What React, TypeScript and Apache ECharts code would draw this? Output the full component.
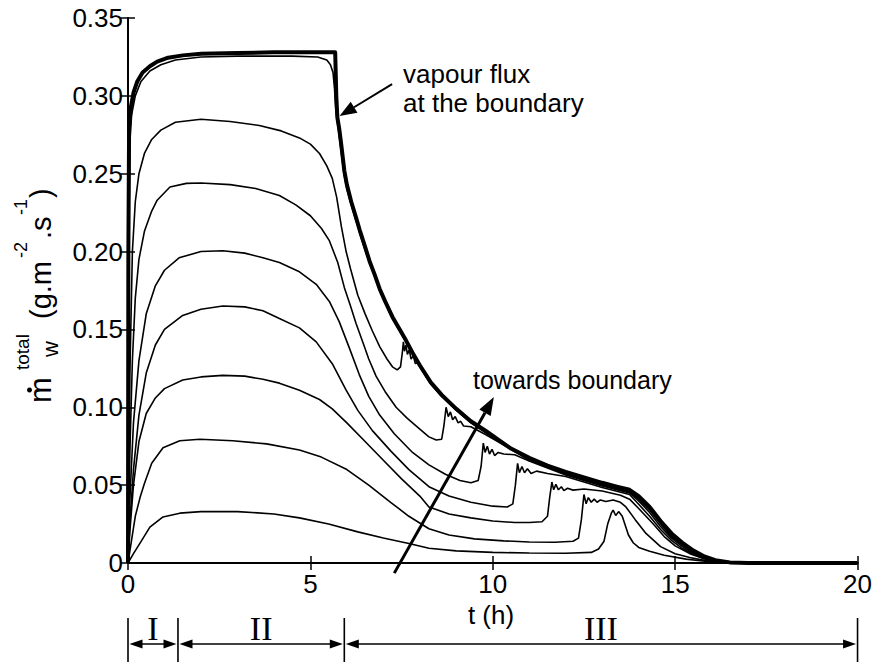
import React, { useEffect, useRef } from 'react';
import * as echarts from 'echarts';

type Pt = [number, number];

// Axis ticks
const xTickValues = [0, 5, 10, 15, 20];
const yTickValues = [0, 0.05, 0.1, 0.15, 0.2, 0.25, 0.3, 0.35];

// Vapour flux at the boundary (g.m-2.s-1) against time (h)
const fluxBoundary: Pt[] = [
  [0, 0], [0.01, 0.2], [0.03, 0.28], [0.08, 0.293], [0.15, 0.302], [0.25, 0.309], [0.4, 0.315],
  [0.6, 0.319], [0.8, 0.322], [1.1, 0.3245], [1.5, 0.326], [2, 0.327], [3, 0.3275], [4, 0.328],
  [5, 0.328], [5.68, 0.328], [5.71, 0.3], [5.74, 0.286], [5.79, 0.279], [5.85, 0.268], [5.93, 0.252],
  [6.0, 0.243], [6.12, 0.232], [6.25, 0.222], [6.35, 0.214], [6.5, 0.203], [6.62, 0.194],
  [6.75, 0.186], [6.9, 0.176], [7.05, 0.168], [7.25, 0.158], [7.45, 0.15], [7.62, 0.143],
  [7.8, 0.135], [8.0, 0.127], [8.3, 0.116], [8.6, 0.108], [9.0, 0.099], [9.4, 0.091], [9.8, 0.085],
  [10.1, 0.08], [10.5, 0.0735], [11.0, 0.0675], [11.5, 0.0625], [12.0, 0.0585], [12.5, 0.055],
  [13.0, 0.0515], [13.4, 0.049], [13.75, 0.047], [14.0, 0.043], [14.3, 0.036], [14.6, 0.027],
  [14.9, 0.019], [15.2, 0.013], [15.5, 0.008], [15.8, 0.0042], [16.1, 0.0018], [16.5, 0.0004],
  [17, 0], [20, 0],
];

// Total flux at successive depths, nearest the boundary first
const fluxNode1: Pt[] = [
  [0, 0], [0.02, 0.2], [0.05, 0.27], [0.1, 0.288], [0.2, 0.3], [0.35, 0.309], [0.6, 0.316],
  [0.9, 0.32], [1.3, 0.323], [2, 0.325], [3, 0.3255], [4.5, 0.3255], [5.2, 0.325], [5.45, 0.323],
  [5.55, 0.32], [5.62, 0.315], [5.66, 0.305], [5.7, 0.29], [5.77, 0.278], [5.84, 0.265],
  [5.92, 0.25], [6.0, 0.24], [6.12, 0.23], [6.25, 0.22], [6.35, 0.212], [6.5, 0.201],
  [6.62, 0.193], [6.8, 0.182], [7.0, 0.17], [7.25, 0.157], [7.62, 0.142], [8.0, 0.126],
  [8.6, 0.107], [9.4, 0.0905], [10.1, 0.0795], [11.0, 0.067], [12.0, 0.058], [13.0, 0.051],
  [13.75, 0.0465], [14.0, 0.0425], [14.3, 0.0355], [14.6, 0.0265], [14.9, 0.0185], [15.2, 0.0125],
  [15.5, 0.0077], [15.8, 0.004], [16.1, 0.0016], [16.5, 0.0003], [17, 0], [20, 0],
];

const fluxNode2: Pt[] = [
  [0, 0], [0.05, 0.12], [0.12, 0.2], [0.2, 0.232], [0.3, 0.25], [0.45, 0.263], [0.65, 0.272],
  [0.9, 0.278], [1.3, 0.283], [2, 0.285], [2.8, 0.2835], [3.6, 0.281], [4.2, 0.2775], [4.7, 0.273],
  [5.0, 0.269], [5.25, 0.263], [5.45, 0.255], [5.6, 0.247], [5.72, 0.235], [5.85, 0.216],
  [5.98, 0.2], [6.1, 0.189], [6.3, 0.172], [6.5, 0.16], [6.7, 0.149], [6.9, 0.139], [7.1, 0.131],
  [7.25, 0.126], [7.38, 0.124], [7.47, 0.126], [7.52, 0.135], [7.55, 0.142], [7.58, 0.136],
  [7.62, 0.14], [7.66, 0.134], [7.71, 0.137], [7.76, 0.131], [7.82, 0.133], [7.88, 0.128],
  [7.95, 0.129], [8.05, 0.124], [8.3, 0.115], [8.6, 0.107], [9.0, 0.098], [9.4, 0.09],
  [10.1, 0.079], [11.0, 0.0665], [12.0, 0.0575], [13.0, 0.0505], [13.75, 0.046], [14.0, 0.042],
  [14.3, 0.035], [14.6, 0.026], [14.9, 0.018], [15.2, 0.012], [15.5, 0.0072], [15.8, 0.0037],
  [16.1, 0.0015], [16.5, 0.0003], [17, 0], [20, 0],
];

const fluxNode3: Pt[] = [
  [0, 0], [0.05, 0.07], [0.12, 0.13], [0.2, 0.17], [0.3, 0.195], [0.45, 0.213], [0.65, 0.226],
  [0.8, 0.233], [1.15, 0.2415], [1.6, 0.2438], [2, 0.244], [2.8, 0.243], [3.5, 0.2405],
  [4.15, 0.236], [4.6, 0.23], [5.0, 0.223], [5.3, 0.215], [5.52, 0.207], [5.75, 0.193],
  [5.93, 0.177], [6.1, 0.165], [6.25, 0.154], [6.45, 0.141], [6.6, 0.131], [6.8, 0.12],
  [7.05, 0.11], [7.35, 0.1], [7.65, 0.093], [8.0, 0.086], [8.25, 0.081], [8.45, 0.079],
  [8.6, 0.0795], [8.66, 0.088], [8.72, 0.1], [8.78, 0.094], [8.84, 0.097], [8.9, 0.092],
  [8.97, 0.094], [9.05, 0.09], [9.12, 0.091], [9.2, 0.088], [9.4, 0.0875], [9.8, 0.0825],
  [10.1, 0.0785], [11.0, 0.066], [12.0, 0.057], [13.0, 0.05], [13.75, 0.0455], [14.0, 0.041],
  [14.3, 0.034], [14.6, 0.025], [14.9, 0.017], [15.2, 0.0115], [15.5, 0.0068], [15.8, 0.0034],
  [16.1, 0.0013], [16.5, 0.0002], [17, 0], [20, 0],
];

const fluxNode4: Pt[] = [
  [0, 0], [0.05, 0.04], [0.15, 0.09], [0.3, 0.13], [0.5, 0.16], [0.75, 0.178], [1.0, 0.188],
  [1.4, 0.196], [2, 0.2], [2.6, 0.2005], [3.2, 0.199], [3.7, 0.196], [4.15, 0.193], [4.7, 0.187],
  [5.16, 0.179], [5.52, 0.168], [5.79, 0.155], [6.07, 0.138], [6.34, 0.121], [6.6, 0.107],
  [6.9, 0.095], [7.3, 0.083], [7.8, 0.071], [8.25, 0.063], [8.7, 0.057], [9.1, 0.053],
  [9.4, 0.0515], [9.6, 0.053], [9.68, 0.062], [9.74, 0.077], [9.79, 0.071], [9.85, 0.075],
  [9.91, 0.07], [9.98, 0.073], [10.05, 0.069], [10.15, 0.071], [10.3, 0.07], [10.6, 0.0695],
  [11.0, 0.0655], [12.0, 0.0565], [13.0, 0.0495], [13.75, 0.045], [14.0, 0.0398], [14.3, 0.0325],
  [14.6, 0.0235], [14.9, 0.016], [15.2, 0.0105], [15.5, 0.006], [15.8, 0.003], [16.1, 0.0012],
  [16.5, 0.0002], [17, 0], [20, 0],
];

const fluxNode5: Pt[] = [
  [0, 0], [0.05, 0.025], [0.15, 0.06], [0.3, 0.095], [0.5, 0.122], [0.75, 0.14], [1.0, 0.15],
  [1.5, 0.159], [2.0, 0.163], [2.6, 0.165], [3.2, 0.1645], [3.7, 0.162], [4.15, 0.157],
  [4.7, 0.151], [5.16, 0.142], [5.6, 0.128], [5.98, 0.111], [6.3, 0.098], [6.7, 0.085],
  [7.2, 0.072], [7.7, 0.06], [8.25, 0.049], [8.8, 0.043], [9.4, 0.039], [10.0, 0.0365],
  [10.4, 0.036], [10.55, 0.038], [10.62, 0.05], [10.68, 0.064], [10.73, 0.058], [10.8, 0.062],
  [10.87, 0.058], [10.95, 0.0605], [11.05, 0.0575], [11.2, 0.059], [11.5, 0.0575], [12.0, 0.0555],
  [13.0, 0.0485], [13.75, 0.044], [13.95, 0.039], [14.3, 0.03], [14.6, 0.0215], [14.9, 0.0145],
  [15.2, 0.0093], [15.5, 0.0055], [15.8, 0.0027], [16.1, 0.001], [16.5, 0.0001], [17, 0], [20, 0],
];

const fluxNode6: Pt[] = [
  [0, 0], [0.05, 0.02], [0.15, 0.05], [0.3, 0.078], [0.5, 0.096], [0.75, 0.106], [1.0, 0.112],
  [1.5, 0.1175], [2.0, 0.1195], [2.6, 0.1205], [3.2, 0.12], [3.7, 0.118], [4.15, 0.1155],
  [4.7, 0.111], [5.25, 0.105], [5.6, 0.099], [6.0, 0.09], [6.5, 0.078], [7.0, 0.066],
  [7.5, 0.054], [8.0, 0.043], [8.25, 0.036], [8.8, 0.0315], [9.4, 0.029], [10.0, 0.027],
  [10.6, 0.026], [11.0, 0.026], [11.35, 0.0265], [11.5, 0.03], [11.56, 0.042], [11.62, 0.052],
  [11.67, 0.047], [11.73, 0.0505], [11.8, 0.047], [11.88, 0.049], [11.95, 0.0465], [12.05, 0.048],
  [12.2, 0.0468], [12.5, 0.0475], [13.0, 0.0462], [13.5, 0.0435], [13.75, 0.041], [14.0, 0.035],
  [14.4, 0.025], [14.7, 0.017], [15.0, 0.011], [15.4, 0.006], [15.8, 0.0027], [16.3, 0.0007],
  [16.8, 0], [20, 0],
];

const fluxNode7: Pt[] = [
  [0, 0], [0.1, 0.015], [0.2, 0.03], [0.33, 0.042], [0.45, 0.051], [0.65, 0.064], [0.96, 0.074],
  [1.42, 0.0785], [1.97, 0.0795], [2.87, 0.0785], [3.8, 0.0765], [4.7, 0.0726], [5.3, 0.068],
  [6.0, 0.06], [6.6, 0.05], [7.2, 0.039], [7.7, 0.03], [8.25, 0.022], [8.8, 0.018], [9.5, 0.0155],
  [10.3, 0.0142], [11.0, 0.0135], [11.7, 0.0133], [12.2, 0.014], [12.35, 0.016], [12.43, 0.028],
  [12.5, 0.044], [12.56, 0.038], [12.62, 0.042], [12.7, 0.039], [12.78, 0.041], [12.86, 0.039],
  [12.95, 0.0405], [13.1, 0.0395], [13.3, 0.0405], [13.5, 0.039], [13.65, 0.036], [13.9, 0.028],
  [14.2, 0.019], [14.6, 0.0105], [15.0, 0.006], [15.4, 0.0035], [15.8, 0.0017], [16.3, 0.0004],
  [16.8, 0], [20, 0],
];

const fluxNode8: Pt[] = [
  [0, 0], [0.15, 0.006], [0.33, 0.0128], [0.6, 0.023], [0.96, 0.0296], [1.42, 0.032],
  [2.0, 0.033], [3.0, 0.033], [4.0, 0.0315], [4.7, 0.029], [5.5, 0.025], [6.3, 0.02],
  [7.0, 0.016], [7.7, 0.0125], [8.25, 0.0095], [9.0, 0.0078], [10.0, 0.0068], [11.0, 0.0064],
  [12.0, 0.0063], [12.7, 0.0068], [12.9, 0.009], [13.05, 0.014], [13.15, 0.025], [13.25, 0.032],
  [13.3, 0.034], [13.37, 0.0305], [13.45, 0.033], [13.55, 0.03], [13.62, 0.025], [13.72, 0.018],
  [13.85, 0.013], [14.0, 0.01], [14.3, 0.0075], [14.7, 0.005], [15.3, 0.0025], [16.0, 0.0006],
  [16.5, 0], [20, 0],
];

const innerFluxes = [
  fluxNode1, fluxNode2, fluxNode3, fluxNode4, fluxNode5, fluxNode6, fluxNode7, fluxNode8,
];

// Drying periods marked under the time axis
const phaseLimits = [0, 1.37, 5.93, 20];
const phaseNames = ['I', 'II', 'III'];

const SANS = '"Liberation Sans", Arial, Helvetica, sans-serif';
const SERIF = '"Liberation Serif", "Times New Roman", serif';

function arrowHead(tip: number[], from: number[], len: number, half: number) {
  const dx = tip[0] - from[0];
  const dy = tip[1] - from[1];
  const d = Math.hypot(dx, dy);
  const ux = dx / d;
  const uy = dy / d;
  const bx = tip[0] - ux * len;
  const by = tip[1] - uy * len;
  return {
    base: [bx, by],
    points: [
      [tip[0], tip[1]],
      [bx - uy * half, by + ux * half],
      [bx + uy * half, by - ux * half],
    ],
  };
}

export default function App() {
  const ref = useRef<HTMLDivElement>(null);

  useEffect(() => {
    const chart = echarts.init(ref.current!, null, { renderer: 'svg' });

    const axisLine = { show: true, lineStyle: { color: '#000', width: 2 } };
    const axisTick = { show: true, inside: true, length: 7, lineStyle: { color: '#000', width: 1.5 } };

    const series: any[] = innerFluxes.map((d) => ({
      type: 'line',
      data: d,
      showSymbol: false,
      silent: true,
      z: 2,
      lineStyle: { color: '#000', width: 1.6 },
    }));
    series.push({
      type: 'line',
      data: fluxBoundary,
      showSymbol: false,
      silent: true,
      z: 3,
      lineStyle: { color: '#000', width: 4, join: 'round' },
    });

    chart.setOption({
      animation: false,
      backgroundColor: '#fff',
      grid: { left: 128, top: 18, width: 732, height: 545 },
      xAxis: [
        {
          type: 'value', min: 0, max: 20, interval: 5, position: 'bottom',
          axisLine, axisTick, splitLine: { show: false },
          axisLabel: {
            color: '#000', fontSize: 26, fontFamily: SANS, margin: 8,
            formatter: (v: number) => (xTickValues.includes(v) ? String(v) : ''),
          },
        },
        {
          type: 'value', min: 0, max: 20, interval: 5, position: 'top',
          axisLine, axisTick, splitLine: { show: false }, axisLabel: { show: false },
        },
      ],
      yAxis: [
        {
          type: 'value', min: 0, max: 0.35, interval: 0.05, position: 'left',
          axisLine, axisTick, splitLine: { show: false },
          axisLabel: {
            color: '#000', fontSize: 26, fontFamily: SANS, margin: 5,
            formatter: (v: number) => {
              const hit = yTickValues.find((t) => Math.abs(t - v) < 1e-9);
              if (hit === undefined) return '';
              return hit === 0 ? '0' : hit.toFixed(2);
            },
          },
        },
        {
          type: 'value', min: 0, max: 0.35, interval: 0.05, position: 'right',
          axisLine, axisTick, splitLine: { show: false }, axisLabel: { show: false },
        },
      ],
      series,
    });

    const px = (t: number, v: number) =>
      chart.convertToPixel({ xAxisIndex: 0, yAxisIndex: 0 }, [t, v]) as number[];

    const graphics: any[] = [];

    // Rotated y-axis title: m-dot with sub/superscripts and units
    const mid = (baseline: number, fs: number) => baseline - 0.35 * fs;
    const yTitleParts = [
      { text: 'm', u: 0, v: 0, fs: 31 },
      { text: 'total', u: 33, v: -22, fs: 19 },
      { text: 'w', u: 46, v: 7, fs: 22 },
      { text: '(g.m', u: 84, v: 0, fs: 29 },
      { text: '-2', u: 145, v: -24, fs: 18 },
      { text: '.s', u: 164, v: 0, fs: 29 },
      { text: '-1', u: 188, v: -24, fs: 18 },
      { text: ')', u: 205, v: 0, fs: 29 },
    ];
    graphics.push({
      type: 'group',
      x: 51,
      y: 403,
      rotation: Math.PI / 2,
      children: [
        ...yTitleParts.map((p) => ({
          type: 'text',
          x: p.u,
          y: mid(p.v, p.fs),
          style: {
            text: p.text, fontSize: p.fs, fontFamily: SANS, fill: '#000',
            align: 'left', verticalAlign: 'middle',
          },
        })),
        { type: 'circle', shape: { cx: 13, cy: -21.5, r: 2.5 }, style: { fill: '#000' } },
      ],
    });

    // Time axis title
    graphics.push({
      type: 'text',
      x: 491,
      y: 615,
      style: {
        text: 't (h)', fontSize: 26, fontFamily: SANS, fill: '#000',
        align: 'center', verticalAlign: 'middle',
      },
    });

    // Period brackets I, II, III
    const yBar = 644;
    const xs = phaseLimits.map((t) => px(t, 0)[0]);
    xs.forEach((x) => {
      graphics.push({
        type: 'line',
        shape: { x1: x, y1: 618, x2: x, y2: 662 },
        style: { stroke: '#000', lineWidth: 1.6 },
      });
    });
    for (let i = 0; i < phaseNames.length; i++) {
      const a = xs[i] + 1.5;
      const b = xs[i + 1] - 1.5;
      graphics.push({
        type: 'line',
        shape: { x1: a + 10, y1: yBar, x2: b - 10, y2: yBar },
        style: { stroke: '#000', lineWidth: 1.5 },
      });
      graphics.push({
        type: 'polygon',
        shape: { points: [[a, yBar], [a + 13, yBar - 4.5], [a + 13, yBar + 4.5]] },
        style: { fill: '#000' },
      });
      graphics.push({
        type: 'polygon',
        shape: { points: [[b, yBar], [b - 13, yBar - 4.5], [b - 13, yBar + 4.5]] },
        style: { fill: '#000' },
      });
      graphics.push({
        type: 'text',
        x: (xs[i] + xs[i + 1]) / 2,
        y: 628,
        style: {
          text: phaseNames[i], fontSize: 34, fontFamily: SERIF, fill: '#000',
          align: 'center', verticalAlign: 'middle',
        },
      });
    }

    // Annotation: vapour flux at the boundary
    graphics.push({
      type: 'text', x: 403, y: 74,
      style: { text: 'vapour flux', fontSize: 26, fontFamily: SANS, fill: '#000', align: 'left', verticalAlign: 'middle' },
    });
    graphics.push({
      type: 'text', x: 403, y: 103,
      style: { text: 'at the boundary', fontSize: 26, fontFamily: SANS, fill: '#000', align: 'left', verticalAlign: 'middle' },
    });
    const vTail = px(7.24, 0.3076);
    const vTip = px(5.8, 0.287);
    const vHead = arrowHead(vTip, vTail, 17, 6.5);
    graphics.push({
      type: 'line',
      shape: { x1: vTail[0], y1: vTail[1], x2: vHead.base[0], y2: vHead.base[1] },
      style: { stroke: '#000', lineWidth: 2 },
    });
    graphics.push({ type: 'polygon', shape: { points: vHead.points }, style: { fill: '#000' } });

    // Annotation: towards boundary
    graphics.push({
      type: 'text', x: 473, y: 380,
      style: { text: 'towards boundary', fontSize: 25, fontFamily: SANS, fill: '#000', align: 'left', verticalAlign: 'middle' },
    });
    const tTail = px(7.3, -0.0065);
    const tTip = px(10.03, 0.1066);
    const tHead = arrowHead(tTip, tTail, 18, 6.5);
    graphics.push({
      type: 'line',
      shape: { x1: tTail[0], y1: tTail[1], x2: tHead.base[0], y2: tHead.base[1] },
      style: { stroke: '#000', lineWidth: 3 },
    });
    graphics.push({ type: 'polygon', shape: { points: tHead.points }, style: { fill: '#000' } });

    chart.setOption({ graphic: graphics });

    return () => chart.dispose();
  }, []);

  return (
    <div
      ref={ref}
      style={{ position: 'fixed', left: 0, top: 0, width: 875, height: 662, background: '#fff' }}
    />
  );
}
